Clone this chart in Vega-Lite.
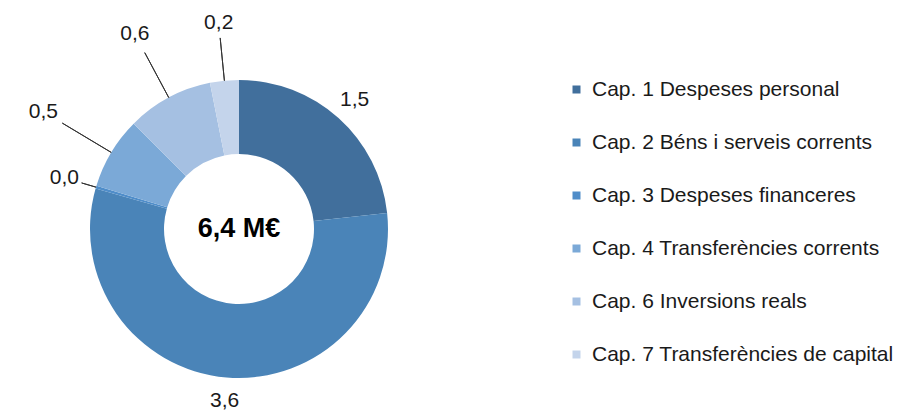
{
  "$schema": "https://vega.github.io/schema/vega-lite/v6.json",
  "width": 478,
  "height": 458,
  "autosize": {"type": "pad"},
  "padding": 0,
  "background": "white",
  "config": {"view": {"stroke": null}, "font": "Liberation Sans"},
  "data": {
    "values": [
      {"ord": 1, "cap": "Cap. 1 Despeses personal", "value": 1.49, "label": "1,5"},
      {"ord": 2, "cap": "Cap. 2 Béns i serveis corrents", "value": 3.59, "label": "3,6"},
      {"ord": 3, "cap": "Cap. 3 Despeses financeres", "value": 0.02, "label": "0,0"},
      {"ord": 4, "cap": "Cap. 4 Transferències corrents", "value": 0.5, "label": "0,5"},
      {"ord": 6, "cap": "Cap. 6 Inversions reals", "value": 0.6, "label": "0,6"},
      {"ord": 7, "cap": "Cap. 7 Transferències de capital", "value": 0.2, "label": "0,2"}
    ]
  },
  "layer": [
    {
      "mark": {"type": "arc", "radius": 149, "radius2": 75},
      "encoding": {
        "theta": {"field": "value", "type": "quantitative", "stack": true},
        "order": {"field": "ord", "type": "quantitative"},
        "color": {
          "field": "cap",
          "type": "nominal",
          "sort": {"field": "ord"},
          "scale": {
            "domain": ["Cap. 1 Despeses personal", "Cap. 2 Béns i serveis corrents", "Cap. 3 Despeses financeres", "Cap. 4 Transferències corrents", "Cap. 6 Inversions reals", "Cap. 7 Transferències de capital"],
            "range": ["#416f9c", "#4a84b8", "#4f8dc9", "#7ba9d7", "#a5c0e2", "#c4d4eb"]
          },
          "legend": {
            "title": null,
            "orient": "none",
            "legendX": 566,
            "legendY": 79,
            "padding": 0,
            "symbolType": "square",
            "symbolSize": 64,
            "symbolStrokeWidth": 0,
            "labelFont": "Liberation Sans",
            "labelFontSize": 21,
            "labelColor": "#1a1a1a",
            "labelLimit": 400,
            "labelOffset": 5,
            "rowPadding": 31
          }
        }
      }
    },
    {
      "transform": [
        {"stack": "value", "groupby": [], "sort": [{"field": "ord", "order": "ascending"}], "as": ["s0", "s1"]},
        {"calculate": "(datum.s0 + datum.s1) / 2", "as": "mid"},
        {"filter": "datum.ord == 3"}
      ],
      "encoding": {"theta": {"field": "mid", "type": "quantitative"}},
      "layer": [
        {"mark": {"type": "arc", "radius": 149, "radius2": 164, "fill": null, "stroke": "#333333", "strokeWidth": 1}, "encoding": {"theta2": {"field": "mid"}}},
        {"mark": {"type": "text", "radius": 182, "fontSize": 21, "color": "#1a1a1a"}, "encoding": {"text": {"field": "label"}}}
      ]
    },
    {
      "transform": [
        {"stack": "value", "groupby": [], "sort": [{"field": "ord", "order": "ascending"}], "as": ["s0", "s1"]},
        {"calculate": "(datum.s0 + datum.s1) / 2", "as": "mid"},
        {"filter": "datum.ord == 4"}
      ],
      "encoding": {"theta": {"field": "mid", "type": "quantitative"}},
      "layer": [
        {"mark": {"type": "arc", "radius": 149, "radius2": 206, "fill": null, "stroke": "#333333", "strokeWidth": 1}, "encoding": {"theta2": {"field": "mid"}}},
        {"mark": {"type": "text", "radius": 228, "fontSize": 21, "color": "#1a1a1a"}, "encoding": {"text": {"field": "label"}}}
      ]
    },
    {
      "transform": [
        {"stack": "value", "groupby": [], "sort": [{"field": "ord", "order": "ascending"}], "as": ["s0", "s1"]},
        {"calculate": "(datum.s0 + datum.s1) / 2", "as": "mid"},
        {"filter": "datum.ord == 6"}
      ],
      "encoding": {"theta": {"field": "mid", "type": "quantitative"}},
      "layer": [
        {"mark": {"type": "arc", "radius": 149, "radius2": 200, "fill": null, "stroke": "#333333", "strokeWidth": 1}, "encoding": {"theta2": {"field": "mid"}}},
        {"mark": {"type": "text", "radius": 221, "fontSize": 21, "color": "#1a1a1a"}, "encoding": {"text": {"field": "label"}}}
      ]
    },
    {
      "transform": [
        {"stack": "value", "groupby": [], "sort": [{"field": "ord", "order": "ascending"}], "as": ["s0", "s1"]},
        {"calculate": "(datum.s0 + datum.s1) / 2", "as": "mid"},
        {"filter": "datum.ord == 7"}
      ],
      "encoding": {"theta": {"field": "mid", "type": "quantitative"}},
      "layer": [
        {"mark": {"type": "arc", "radius": 149, "radius2": 192, "fill": null, "stroke": "#333333", "strokeWidth": 1}, "encoding": {"theta2": {"field": "mid"}}},
        {"mark": {"type": "text", "radius": 207, "fontSize": 21, "color": "#1a1a1a"}, "encoding": {"text": {"field": "label"}}}
      ]
    },
    {
      "transform": [
        {"stack": "value", "groupby": [], "sort": [{"field": "ord", "order": "ascending"}], "as": ["s0", "s1"]},
        {"calculate": "(datum.s0 + datum.s1) / 2", "as": "mid"},
        {"filter": "datum.value >= 1"}
      ],
      "mark": {"type": "text", "radius": 173, "fontSize": 21, "color": "#1a1a1a"},
      "encoding": {
        "theta": {"field": "mid", "type": "quantitative"},
        "text": {"field": "label"}
      }
    },
    {
      "data": {"values": [{"t": "6,4 M€"}]},
      "mark": {"type": "text", "fontSize": 27, "fontWeight": "bold", "color": "#000000", "radius": 0, "theta": 0},
      "encoding": {
        "text": {"field": "t"}
      }
    }
  ]
}
